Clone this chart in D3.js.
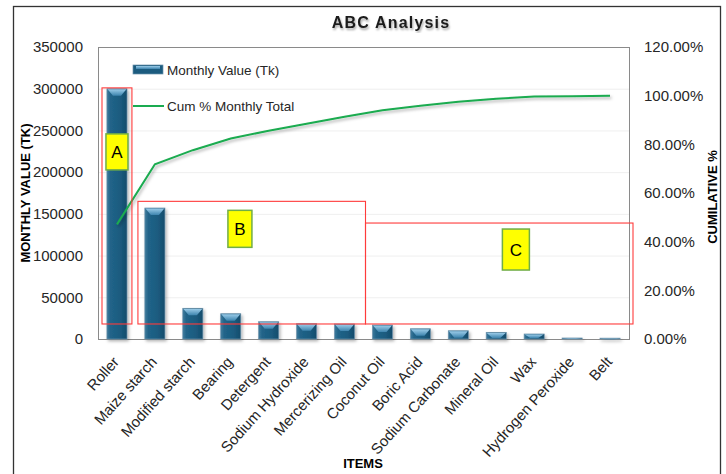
<!DOCTYPE html>
<html>
<head>
<meta charset="utf-8">
<script src="https://cdn.jsdelivr.net/npm/d3@7"></script>
<style>
  body { margin: 0; background: #fff; }
  svg { display: block; }
</style>
</head>
<body>
<script>
const items = ["Roller", "Maize starch", "Modified starch", "Bearing", "Detergent",
    "Sodium Hydroxide", "Mercerizing Oil", "Coconut Oil", "Boric Acid",
    "Sodium Carbonate", "Mineral Oil", "Wax", "Hydrogen Peroxide", "Belt"]
const monthly_value = [300000, 157000, 36800, 30300, 20700, 18300, 18000, 16800,
    12300, 9900, 8000, 6000, 1200, 1000]
const cum_pct = [0.471, 0.718, 0.776, 0.824, 0.856, 0.885, 0.913, 0.940, 0.959,
    0.975, 0.987, 0.997, 0.998, 1.0]
const value_ticks = [0, 50000, 100000, 150000, 200000, 250000, 300000, 350000]
const pct_ticks = [0, 0.2, 0.4, 0.6, 0.8, 1.0, 1.2]
// ABC groups: first/last item, top of red box (in Tk)
const groups = [
    { label: "A", first: "Roller", last: "Roller", top: 301000 },
    { label: "B", first: "Maize starch", last: "Mercerizing Oil", top: 165000 },
    { label: "C", first: "Coconut Oil", last: "Belt", top: 139000 },
]

const W = 726, H = 474
const pl = 98, pr = 629, pt = 47, pb = 339

const svg = d3.select("body").append("svg")
    .attr("width", W)
    .attr("height", H)
    .style("font-family", "'Liberation Sans', Arial, sans-serif")

const defs = svg.append("defs")
const barGrad = defs.append("linearGradient").attr("id", "barGrad")
    .attr("x1", "0").attr("x2", "1").attr("y1", "0").attr("y2", "0")
barGrad.append("stop").attr("offset", "0%").attr("stop-color", "#3f7a9c")
barGrad.append("stop").attr("offset", "18%").attr("stop-color", "#216489")
barGrad.append("stop").attr("offset", "65%").attr("stop-color", "#1b5b7f")
barGrad.append("stop").attr("offset", "100%").attr("stop-color", "#164c6b")
const capGrad = defs.append("linearGradient").attr("id", "capGrad")
    .attr("x1", "0").attr("x2", "0").attr("y1", "0").attr("y2", "1")
capGrad.append("stop").attr("offset", "0%").attr("stop-color", "#9acbe8")
capGrad.append("stop").attr("offset", "100%").attr("stop-color", "#3d84ae")
const shadow = defs.append("filter").attr("id", "shadow")
    .attr("x", "-20%").attr("y", "-20%").attr("width", "140%").attr("height", "140%")
shadow.append("feDropShadow").attr("dx", 1.5).attr("dy", 2).attr("stdDeviation", 1.5)
    .attr("flood-color", "#000").attr("flood-opacity", 0.3)
const tshadow = defs.append("filter").attr("id", "tshadow")
tshadow.append("feDropShadow").attr("dx", 1).attr("dy", 2).attr("stdDeviation", 1.2)
    .attr("flood-color", "#000").attr("flood-opacity", 0.35)

// outer chart border
svg.append("rect")
    .attr("x", 13.5).attr("y", 6.5).attr("width", 707).attr("height", 480)
    .attr("fill", "#fff").attr("stroke", "#333").attr("stroke-width", 1.3)

const x = d3.scaleBand().domain(items).range([pl, pr])
    .paddingInner(0.47).paddingOuter(0.235)
const y = d3.scaleLinear().domain([0, 350000]).range([pb, pt])
const y2 = d3.scaleLinear().domain([0, 1.2]).range([pb, pt])

// gridlines
svg.append("g").selectAll("line")
    .data(value_ticks.slice(1, -1))
    .join("line")
    .attr("x1", pl).attr("x2", pr)
    .attr("y1", (d) => y(d) + 0.5).attr("y2", (d) => y(d) + 0.5)
    .attr("stroke", "#efefef")

// plot border
svg.append("rect")
    .attr("x", pl + 0.5).attr("y", pt + 0.5)
    .attr("width", pr - pl).attr("height", pb - pt)
    .attr("fill", "none").attr("stroke", "#8a8a8a").attr("stroke-width", 1)

// bars
const bw = x.bandwidth()
const bars = svg.append("g").attr("filter", "url(#shadow)")
    .selectAll("g")
    .data(items.map((d, i) => ({ name: d, v: monthly_value[i] })))
    .join("g")
bars.append("rect")
    .attr("x", (d) => x(d.name))
    .attr("y", (d) => y(d.v))
    .attr("width", bw)
    .attr("height", (d) => pb - y(d.v))
    .attr("fill", "url(#barGrad)")
    .attr("stroke", "#6b92ab").attr("stroke-width", 0.7)
bars.append("polygon")
    .attr("points", (d) => {
        const x0 = x(d.name), x1 = x0 + bw, y0 = y(d.v)
        const ch = Math.min(7, Math.max(1, pb - y0 - 1))
        return [[x0 + 0.6, y0 + 0.6], [x1 - 0.6, y0 + 0.6],
            [x1 - bw * 0.3, y0 + ch], [x0 + bw * 0.3, y0 + ch]].join(" ")
    })
    .attr("fill", "url(#capGrad)")

// cumulative line
const line = d3.line()
    .x((d, i) => x(items[i]) + bw / 2)
    .y((d) => y2(d))
svg.append("path")
    .attr("d", line(cum_pct))
    .attr("fill", "none")
    .attr("stroke", "#1aab50")
    .attr("stroke-width", 2)
    .attr("filter", "url(#shadow)")

// axes
const axis_left = d3.axisLeft(y).tickValues(value_ticks).tickSize(0).tickPadding(15)
    .tickFormat(d3.format("d"))
const gl = svg.append("g").attr("transform", `translate(${pl},0)`).call(axis_left)
const axis_right = d3.axisRight(y2).tickValues(pct_ticks).tickSize(0).tickPadding(15)
    .tickFormat(d3.format(".2%"))
const gr = svg.append("g").attr("transform", `translate(${pr},0)`).call(axis_right)
const axis_bottom = d3.axisBottom(x).tickSize(0)
const gb = svg.append("g").attr("transform", `translate(0,${pb})`).call(axis_bottom)
for (const g of [gl, gr, gb]) {
    g.select(".domain").remove()
    g.selectAll("text")
        .attr("fill", "#262626")
        .style("font-family", "'Liberation Sans', Arial, sans-serif")
        .style("font-size", "15px")
}
gb.selectAll("text")
    .style("font-size", "15px")
    .attr("text-anchor", "end")
    .attr("x", 0).attr("y", 0).attr("dy", "0.35em")
    .attr("transform", "translate(-1,20) rotate(-48)")

// ABC boxes
const boxes = svg.append("g")
const half_gap = x.step() * x.paddingInner() / 2
groups.forEach((g, i) => {
    const bx0 = x(g.first) - half_gap + (i === 0 ? 4 : 2)
    const bx1 = x(g.last) + bw + half_gap + (i === 2 ? 4 : (i === 0 ? -4 : 2))
    const by0 = y(g.top), by1 = y(18000)
    boxes.append("rect")
        .attr("x", bx0).attr("y", by0)
        .attr("width", bx1 - bx0).attr("height", by1 - by0)
        .attr("fill", "none").attr("stroke", "#ff3b3b").attr("stroke-width", 1.1)
})
const tags = [
    { fx: 0.5, dy: 46, w: 22, h: 36 },
    { fx: 0.457, dy: 9, w: 24, h: 37 },
    { fx: 0.574, dy: 6, w: 27, h: 41 },
]
groups.forEach((g, i) => {
    const bx0 = x(g.first) - half_gap
    const bx1 = x(g.last) + bw + half_gap
    const cx = bx0 + (bx1 - bx0) * tags[i].fx
    const ty = y(g.top) + tags[i].dy
    boxes.append("rect")
        .attr("x", cx - tags[i].w / 2).attr("y", ty)
        .attr("width", tags[i].w).attr("height", tags[i].h)
        .attr("fill", "#ffff00").attr("stroke", "#70ad47").attr("stroke-width", 1.5)
    boxes.append("text")
        .attr("x", cx).attr("y", ty + tags[i].h / 2)
        .attr("dy", "0.36em")
        .attr("text-anchor", "middle")
        .style("font-size", "17px")
        .attr("fill", "#000")
        .text(g.label)
})

// legend
const leg = svg.append("g")
leg.append("rect").attr("x", 133).attr("y", 65).attr("width", 30).attr("height", 9)
    .attr("fill", "#1b5b7f").attr("stroke", "#6b92ab").attr("stroke-width", 0.7)
leg.append("rect").attr("x", 136).attr("y", 66).attr("width", 24).attr("height", 3)
    .attr("fill", "url(#capGrad)")
leg.append("line").attr("x1", 133).attr("x2", 164).attr("y1", 106).attr("y2", 106)
    .attr("stroke", "#1aab50").attr("stroke-width", 2)
leg.selectAll("text")
    .data(["Monthly Value (Tk)", "Cum % Monthly Total"])
    .join("text")
    .attr("x", 167)
    .attr("y", (d, i) => i === 0 ? 70 : 106)
    .attr("dy", "0.35em")
    .style("font-size", "13.5px")
    .attr("fill", "#262626")
    .text((d) => d)

// titles
svg.append("text")
    .attr("x", 391).attr("y", 28)
    .attr("text-anchor", "middle")
    .style("font-size", "16px").style("font-weight", "bold")
    .style("letter-spacing", "1.2px")
    .attr("fill", "#1a1a1a")
    .attr("filter", "url(#tshadow)")
    .text("ABC Analysis")
svg.append("text")
    .attr("transform", "translate(30,193) rotate(-90)")
    .attr("text-anchor", "middle")
    .style("font-size", "13px").style("font-weight", "bold")
    .attr("fill", "#000")
    .text("MONTHLY VALUE (TK)")
svg.append("text")
    .attr("transform", "translate(717,197) rotate(-90)")
    .attr("text-anchor", "middle")
    .style("font-size", "13px").style("font-weight", "bold")
    .attr("fill", "#000")
    .text("CUMILATIVE %")
svg.append("text")
    .attr("x", 363).attr("y", 468)
    .attr("text-anchor", "middle")
    .style("font-size", "13px").style("font-weight", "bold")
    .attr("fill", "#000")
    .text("ITEMS")
</script>
</body>
</html>
